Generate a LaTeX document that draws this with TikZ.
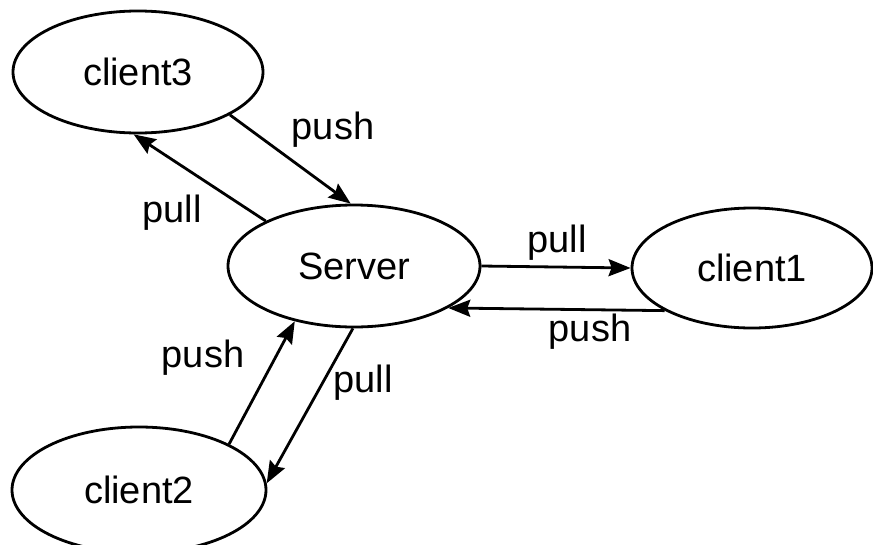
\documentclass[tikz,border=0pt]{standalone}
\usepackage{fontspec}
\setmainfont{Liberation Sans}
\usetikzlibrary{shapes.geometric,arrows.meta}
\begin{document}
\begin{tikzpicture}[x=1pt,y=-1pt,
  every node/.style={font=\fontsize{38}{44}\selectfont},
  peer/.style={ellipse,draw,line width=2.8pt,inner sep=0pt},
  flow/.style={line width=2.8pt,-{Stealth[length=22pt,width=17pt,inset=3pt]}},
  tag/.style={inner sep=0pt}]
  \useasboundingbox (0,0) rectangle (873,544);
  \fill[white] (0,0) rectangle (873,544);

  % peers
  \node[peer,minimum width=250pt,minimum height=122pt] (c3) at (138,72) {client3};
  \node[peer,minimum width=252pt,minimum height=122pt] (s)  at (354,266) {Server};
  \node[peer,minimum width=240pt,minimum height=120pt] (c1) at (752,268) {client1};
  \node[peer,minimum width=254pt,minimum height=126pt] (c2) at (139,490) {client2};

  % exchanges
  \draw[flow] (c3.-25) -- (s.93.6);
  \draw[flow] (s.153) -- (c3.266);
  \draw[flow] (s.0) -- (c1.180);
  \draw[flow] (c1.206) -- (s.-24.3);
  \draw[flow] (c2.27) -- (s.223.5);
  \draw[flow] (s.269) -- (c2.3);

  % labels
  \node[tag] (l1) at (333,130) {push};
  \node[tag] (l2) at (172,213) {pull};
  \node[tag] (l3) at (557,243) {pull};
  \node[tag] (l4) at (590,332) {push};
  \node[tag] (l5) at (203,358) {push};
  \node[tag] (l6) at (363,383) {pull};
\end{tikzpicture}
\end{document}
